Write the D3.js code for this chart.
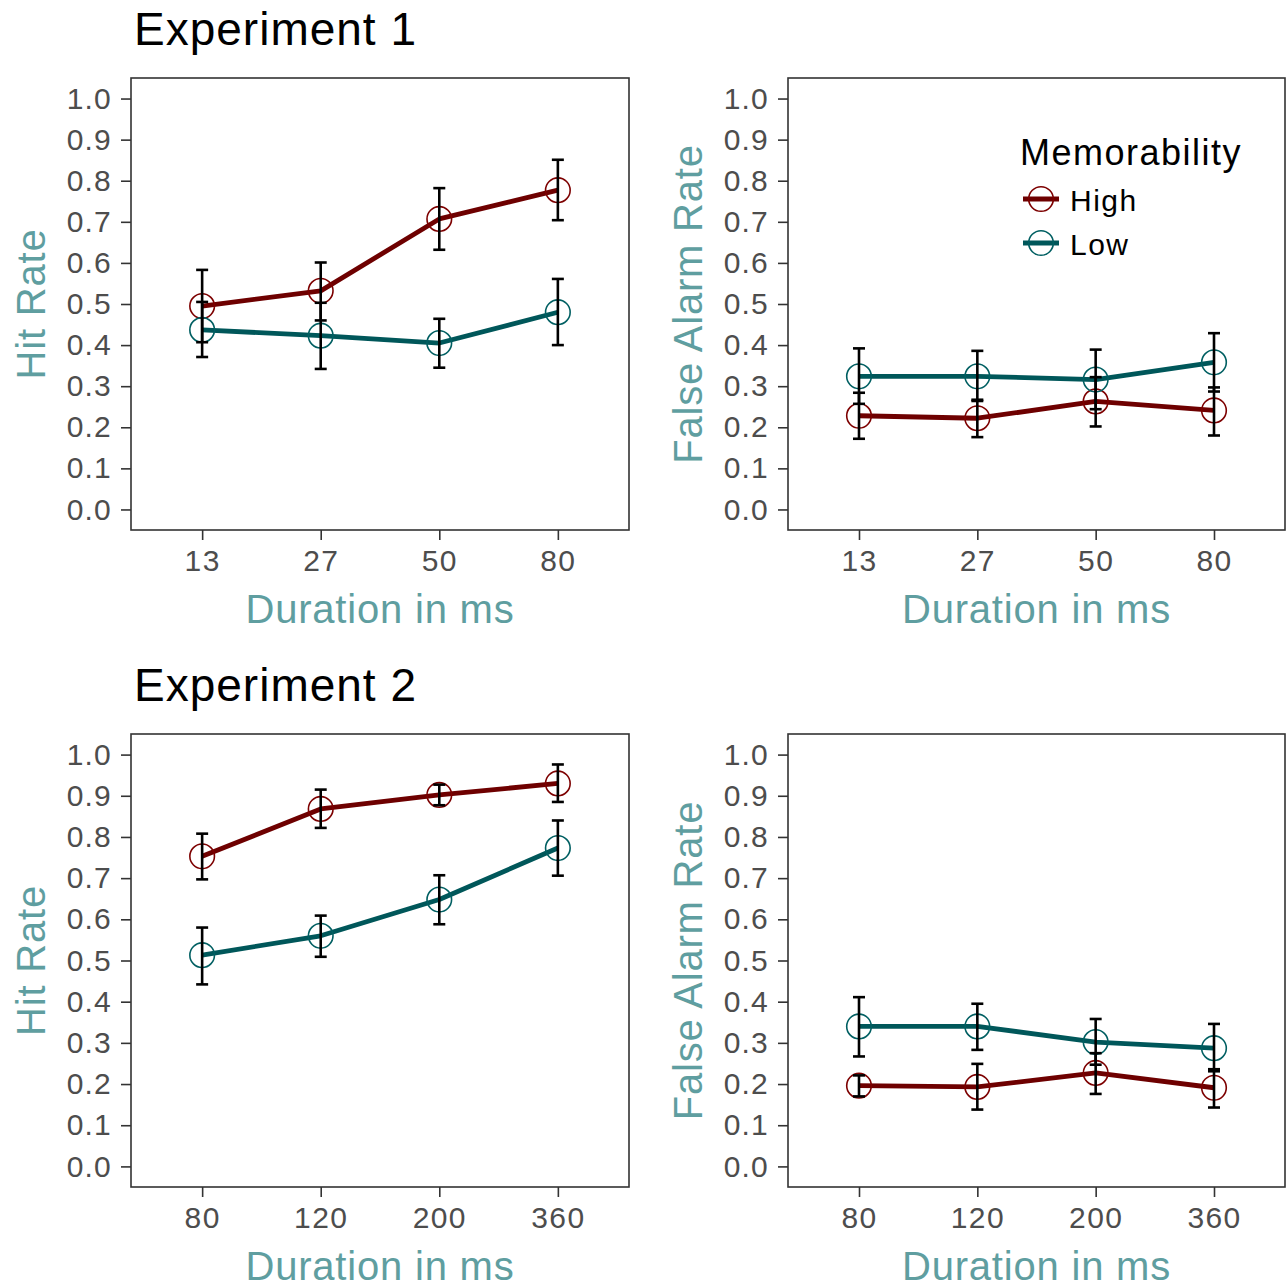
<!DOCTYPE html>
<html>
<head>
<meta charset="utf-8">
<script src="https://cdn.jsdelivr.net/npm/d3@7"></script>
<style>
  html, body { margin: 0; padding: 0; background: #fff; }
  svg { display: block; font-family: "Liberation Sans", Arial, Helvetica, sans-serif; }
</style>
</head>
<body>
<svg id="chart" width="1286" height="1287"></svg>
<script>
// ---- data ----
const exp1Durations = ["13", "27", "50", "80"];
const exp2Durations = ["80", "120", "200", "360"];
const yTickValues = [0, 0.1, 0.2, 0.3, 0.4, 0.5, 0.6, 0.7, 0.8, 0.9, 1.0];
const yTickLabels = ["0.0", "0.1", "0.2", "0.3", "0.4", "0.5", "0.6", "0.7", "0.8", "0.9", "1.0"];
const groups = ["High", "Low"];

// Experiment 1 – hit rate
const hit1HighMean = [0.495, 0.532, 0.707, 0.777];
const hit1HighLo   = [0.407, 0.460, 0.632, 0.704];
const hit1HighHi   = [0.583, 0.601, 0.782, 0.851];
const hit1LowMean  = [0.437, 0.423, 0.405, 0.480];
const hit1LowLo    = [0.371, 0.342, 0.345, 0.400];
const hit1LowHi    = [0.505, 0.503, 0.464, 0.561];
// Experiment 1 – false alarm rate
const fa1HighMean = [0.228, 0.222, 0.263, 0.241];
const fa1HighLo   = [0.172, 0.176, 0.202, 0.180];
const fa1HighHi   = [0.284, 0.267, 0.322, 0.297];
const fa1LowMean  = [0.324, 0.324, 0.316, 0.358];
const fa1LowLo    = [0.257, 0.264, 0.244, 0.287];
const fa1LowHi    = [0.392, 0.386, 0.389, 0.429];
// Experiment 2 – hit rate
const hit2HighMean = [0.753, 0.868, 0.902, 0.930];
const hit2HighLo   = [0.697, 0.822, 0.877, 0.885];
const hit2HighHi   = [0.808, 0.915, 0.927, 0.976];
const hit2LowMean  = [0.513, 0.560, 0.648, 0.773];
const hit2LowLo    = [0.442, 0.509, 0.588, 0.706];
const hit2LowHi    = [0.580, 0.609, 0.707, 0.840];
// Experiment 2 – false alarm rate
const fa2HighMean = [0.196, 0.193, 0.227, 0.191];
const fa2HighLo   = [0.170, 0.138, 0.176, 0.143];
const fa2HighHi   = [0.221, 0.249, 0.275, 0.236];
const fa2LowMean  = [0.340, 0.340, 0.302, 0.287];
const fa2LowLo    = [0.267, 0.283, 0.247, 0.231];
const fa2LowHi    = [0.411, 0.395, 0.358, 0.346];

// ---- styling ----
const lineColor = { High: "#6e0000", Low: "#00575a" };
const pointColor = { High: "#7d0000", Low: "#005f62" };
const titleColor = "#5f9ea0";
const tickColor = "#4d4d4d";

function series(means, los, his) {
  return means.map((m, i) => ({ i, mean: m, lo: los[i], hi: his[i] }));
}

const panels = [
  { x0: 131, x1: 629, y0: 78, y1: 530, cats: exp1Durations, ylab: "Hit Rate",
    data: { High: series(hit1HighMean, hit1HighLo, hit1HighHi), Low: series(hit1LowMean, hit1LowLo, hit1LowHi) } },
  { x0: 788, x1: 1285, y0: 78, y1: 530, cats: exp1Durations, ylab: "False Alarm Rate",
    data: { High: series(fa1HighMean, fa1HighLo, fa1HighHi), Low: series(fa1LowMean, fa1LowLo, fa1LowHi) } },
  { x0: 131, x1: 629, y0: 734, y1: 1187, cats: exp2Durations, ylab: "Hit Rate",
    data: { High: series(hit2HighMean, hit2HighLo, hit2HighHi), Low: series(hit2LowMean, hit2LowLo, hit2LowHi) } },
  { x0: 788, x1: 1285, y0: 734, y1: 1187, cats: exp2Durations, ylab: "False Alarm Rate",
    data: { High: series(fa2HighMean, fa2HighLo, fa2HighHi), Low: series(fa2LowMean, fa2LowLo, fa2LowHi) } }
];

const svg = d3.select("#chart");

panels.forEach(p => {
  const x = d3.scalePoint().domain(p.cats).range([p.x0, p.x1]).padding(0.6);
  const y = d3.scaleLinear().domain([-0.05, 1.05]).range([p.y1, p.y0]);
  const g = svg.append("g");

  // y axis
  const yAxis = d3.axisLeft(y).tickValues(yTickValues)
    .tickFormat((d, i) => yTickLabels[i]).tickSize(10).tickPadding(9);
  const ya = g.append("g").attr("transform", `translate(${p.x0},0)`).call(yAxis);
  ya.select(".domain").remove();
  ya.selectAll("line").attr("stroke", "#333").attr("stroke-width", 1.6);
  ya.selectAll("text").attr("fill", tickColor).style("font-size", "30px").style("letter-spacing", "1.2px");

  // x axis
  const xAxis = d3.axisBottom(x).tickSize(10).tickPadding(10);
  const xa = g.append("g").attr("transform", `translate(0,${p.y1})`).call(xAxis);
  xa.select(".domain").remove();
  xa.selectAll("line").attr("stroke", "#333").attr("stroke-width", 1.6);
  xa.selectAll("text").attr("fill", tickColor).style("font-size", "30px").style("letter-spacing", "1.4px");

  // panel border
  g.append("rect").attr("x", p.x0).attr("y", p.y0)
    .attr("width", p.x1 - p.x0).attr("height", p.y1 - p.y0)
    .attr("fill", "none").attr("stroke", "#333").attr("stroke-width", 1.6);

  // axis titles
  g.append("text").attr("x", (p.x0 + p.x1) / 2).attr("y", p.y1 + 93)
    .attr("text-anchor", "middle").attr("fill", titleColor)
    .style("font-size", "40px").style("letter-spacing", "0.8px").text("Duration in ms");
  g.append("text")
    .attr("transform", `translate(${p.x0 - 86},${(p.y0 + p.y1) / 2}) rotate(-90)`)
    .attr("text-anchor", "middle").attr("fill", titleColor)
    .style("font-size", "40px").style("letter-spacing", "0.8px").text(p.ylab);

  const line = d3.line().x(d => x(p.cats[d.i])).y(d => y(d.mean));

  // lines
  groups.forEach(k => {
    g.append("path").datum(p.data[k]).attr("d", line)
      .attr("fill", "none").attr("stroke", lineColor[k]).attr("stroke-width", 4.8)
      .attr("stroke-linejoin", "round");
  });
  // points
  groups.forEach(k => {
    g.selectAll(null).data(p.data[k]).enter().append("circle")
      .attr("cx", d => x(p.cats[d.i])).attr("cy", d => y(d.mean)).attr("r", 12.3)
      .attr("fill", "none").attr("stroke", pointColor[k]).attr("stroke-width", 1.6);
  });
  // error bars
  groups.forEach(k => {
    const eb = g.selectAll(null).data(p.data[k]).enter().append("g").attr("stroke", "#000").attr("stroke-width", 2.6);
    eb.append("line").attr("x1", d => x(p.cats[d.i])).attr("x2", d => x(p.cats[d.i]))
      .attr("y1", d => y(d.lo)).attr("y2", d => y(d.hi));
    eb.append("line").attr("x1", d => x(p.cats[d.i]) - 6).attr("x2", d => x(p.cats[d.i]) + 6)
      .attr("y1", d => y(d.lo)).attr("y2", d => y(d.lo));
    eb.append("line").attr("x1", d => x(p.cats[d.i]) - 6).attr("x2", d => x(p.cats[d.i]) + 6)
      .attr("y1", d => y(d.hi)).attr("y2", d => y(d.hi));
  });
});

// experiment titles
svg.append("text").attr("x", 134).attr("y", 45).style("font-size", "46px").style("letter-spacing", "1px").attr("fill", "#000").text("Experiment 1");
svg.append("text").attr("x", 134).attr("y", 701).style("font-size", "46px").style("letter-spacing", "1px").attr("fill", "#000").text("Experiment 2");

// legend
const leg = svg.append("g");
leg.append("text").attr("x", 1020).attr("y", 165).style("font-size", "36px").style("letter-spacing", "1.5px").attr("fill", "#000").text("Memorability");
groups.forEach((k, i) => {
  const cy = 199 + i * 44;
  leg.append("line").attr("x1", 1023).attr("x2", 1059).attr("y1", cy).attr("y2", cy)
    .attr("stroke", lineColor[k]).attr("stroke-width", 4.8);
  leg.append("circle").attr("cx", 1041).attr("cy", cy).attr("r", 12.3)
    .attr("fill", "none").attr("stroke", pointColor[k]).attr("stroke-width", 1.6);
  leg.append("text").attr("x", 1070).attr("y", cy + 12).style("font-size", "30px").style("letter-spacing", "1.5px").attr("fill", "#000").text(k);
});
</script>
</body>
</html>
